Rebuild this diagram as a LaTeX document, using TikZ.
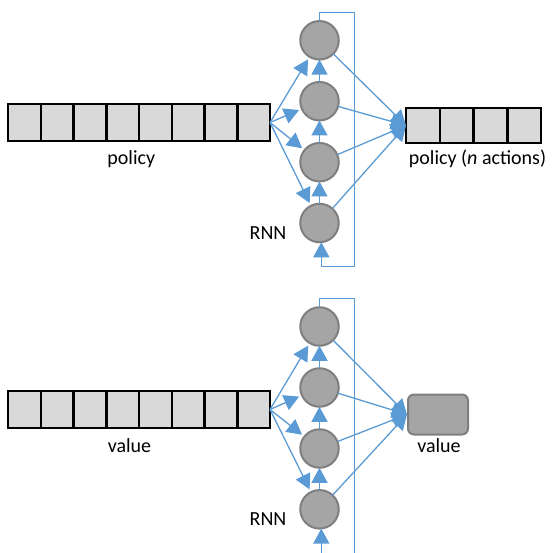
\documentclass[tikz,border=0pt]{standalone}
\usepackage{fontspec}
\setmainfont{Carlito}
\usetikzlibrary{arrows.meta}
\definecolor{wireblue}{HTML}{5B9BD5}
\definecolor{cellfill}{HTML}{D9D9D9}
\definecolor{nodefill}{HTML}{A5A5A5}
\definecolor{nodeedge}{HTML}{7F7F7F}
\begin{document}
\begin{tikzpicture}[x=1pt,y=-1pt,
  cell/.style={draw=black,line width=2.5pt,fill=cellfill,minimum width=32.75pt,minimum height=37pt,inner sep=0pt,outer sep=0pt,anchor=north west},
  ocell/.style={cell,minimum width=33.75pt,minimum height=35pt},
  rnn/.style={circle,draw=nodeedge,line width=2pt,fill=nodefill,minimum size=38.5pt,inner sep=0pt,outer sep=0pt},
  valbox/.style={draw=nodeedge,line width=2pt,fill=nodefill,rounded corners=6pt,minimum width=60pt,minimum height=40pt,inner sep=0pt,anchor=north west},
  wire/.style={draw=wireblue,line width=1.3pt},
  arr/.style={wire,-{Triangle[length=15pt,width=16pt]}},
  inarr/.style={arr,shorten >=3pt},
  lbl/.style={font=\fontsize{20}{24}\selectfont,inner sep=0pt,anchor=base}
]
\useasboundingbox (0,0) rectangle (553,552);

% ---------- top: policy ----------
\foreach \i in {1,...,8} {
  \node[cell] (pc\i) at ({8+(\i-1)*32.75},104) {};
}
\foreach \i in {1,...,4} {
  \node[ocell] (qc\i) at ({406+(\i-1)*33.75},108) {};
}
\node[rnn] (c1) at (319.5,40.3) {};
\node[rnn] (c2) at (319.5,101.2) {};
\node[rnn] (c3) at (319.5,162.2) {};
\node[rnn] (c4) at (319.5,223.0) {};

\node[lbl] (lpol) at (131.3,164) {policy};
\node[lbl] (lpoln) at (477.5,164) {policy (\textit{n} actions)};
\node[lbl] (lrnn1) at (268,239) {RNN};

\foreach \c in {c1,c2,c3,c4} {
  \draw[inarr] (pc8.east) -- (\c);
  \draw[arr] (\c) -- (qc1.west);
}
\draw[arr] (c2.north) -- (c1.south);
\draw[arr] (c3.north) -- (c2.south);
\draw[arr] (c4.north) -- (c3.south);

\coordinate (fa) at (354.3,12);
\coordinate (fb) at (354.3,266.7);
\coordinate (fc) at (321.3,266.7);
\draw[wire,line width=1pt] (c1.north) |- (fa) -- (fb) -- (fc);
\draw[arr] (fc) -- (c4.south -| fc);

% ---------- bottom: value ----------
\foreach \i in {1,...,8} {
  \node[cell] (vc\i) at ({8+(\i-1)*32.75},391) {};
}
\node[valbox] (val) at (407,393.5) {};
\node[rnn] (d1) at (319.5,326.5) {};
\node[rnn] (d2) at (319.5,387.5) {};
\node[rnn] (d3) at (319.5,448.5) {};
\node[rnn] (d4) at (319.5,509.3) {};

\node[lbl] (lval) at (129.5,452) {value};
\node[lbl] (lval2) at (439,452) {value};
\node[lbl] (lrnn2) at (268,525) {RNN};

\foreach \d in {d1,d2,d3,d4} {
  \draw[inarr] (vc8.east) -- (\d);
  \draw[arr] (\d) -- (val.west);
}
\draw[arr] (d2.north) -- (d1.south);
\draw[arr] (d3.north) -- (d2.south);
\draw[arr] (d4.north) -- (d3.south);

\coordinate (ga) at (354.3,298.3);
\coordinate (gb) at (354.3,553);
\coordinate (gc) at (321.3,553);
\draw[wire,line width=1pt] (d1.north) |- (ga) -- (gb);
\draw[arr] (gc) -- (d4.south -| gc);
\end{tikzpicture}
\end{document}
